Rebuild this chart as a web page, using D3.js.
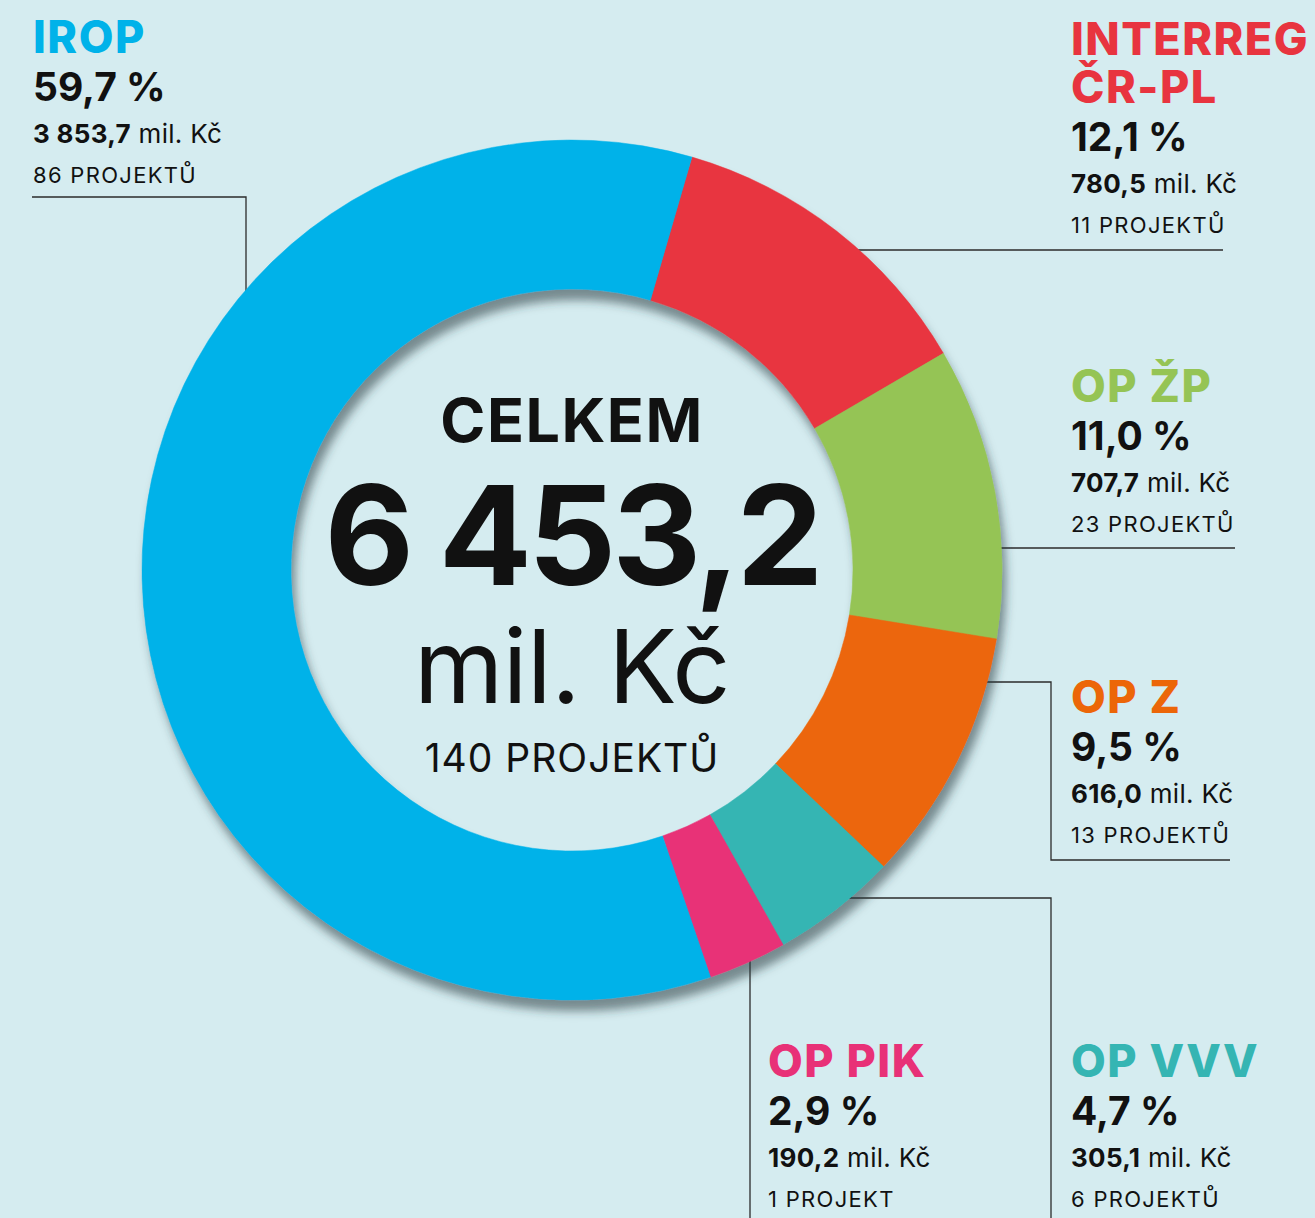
<!DOCTYPE html>
<html>
<head>
<meta charset="utf-8">
<script src="https://cdn.jsdelivr.net/npm/d3@7"></script>
<style>
    html, body { margin: 0; padding: 0; background: #d5ecf0; }
    svg { display: block; font-family: Inter, "Open Sans", sans-serif; }
</style>
</head>
<body>
<div id="chart"></div>
<script>
// data
const programs = ['INTERREG ČR-PL', 'OP ŽP', 'OP Z', 'OP VVV', 'OP PIK', 'IROP'];
const amounts = [780.5, 707.7, 616.0, 305.1, 190.2, 3853.7];      // mil. Kč
const shares = ['12,1', '11,0', '9,5', '4,7', '2,9', '59,7'];     // %
const amountLabels = ['780,5', '707,7', '616,0', '305,1', '190,2', '3 853,7'];
const projects = ['11 PROJEKTŮ', '23 PROJEKTŮ', '13 PROJEKTŮ', '6 PROJEKTŮ', '1 PROJEKT', '86 PROJEKTŮ'];
const colors = ['#e8343f', '#95c455', '#ec6608', '#35b5b3', '#e83177', '#00b2e9'];
const totalLabel = '6 453,2';
const totalProjects = '140 PROJEKTŮ';

const width = 1315, height = 1218;
const cx = 572, cy = 570;
const outerR = 430, innerR = 281;

const svg = d3.select('#chart')
    .append('svg')
    .attr('width', width)
    .attr('height', height);

svg.append('rect')
    .attr('width', width)
    .attr('height', height)
    .attr('fill', '#d5ecf0');

const defs = svg.append('defs');
const shadow = defs.append('filter')
    .attr('id', 'shadow')
    .attr('x', '-20%').attr('y', '-20%')
    .attr('width', '140%').attr('height', '140%');
shadow.append('feDropShadow')
    .attr('dx', 4)
    .attr('dy', 11)
    .attr('stdDeviation', 5)
    .attr('flood-color', '#2a3b40')
    .attr('flood-opacity', 0.55);

const startDeg = 16.2;
const pie = d3.pie()
    .sort(null)
    .startAngle(startDeg * Math.PI / 180)
    .endAngle(startDeg * Math.PI / 180 + 2 * Math.PI);

const arc = d3.arc()
    .innerRadius(innerR)
    .outerRadius(outerR);

// label layout: x and first baseline of each label block
const layout = [
    { x: 1071, y: 55, title: ['INTERREG', 'ČR-PL'] },
    { x: 1071, y: 402, title: ['OP ŽP'] },
    { x: 1071, y: 713, title: ['OP Z'] },
    { x: 1071, y: 1077, title: ['OP VVV'] },
    { x: 768, y: 1077, title: ['OP PIK'] },
    { x: 33, y: 53, title: ['IROP'] }
];

// leader lines end on the ring edge
const ringX = y => cx + Math.sqrt(outerR * outerR - (y - cy) * (y - cy));
const ringY = x => cy + Math.sqrt(outerR * outerR - (x - cx) * (x - cx));
const ringYTop = x => cy - Math.sqrt(outerR * outerR - (x - cx) * (x - cx));

const leaders = [
    [[ringX(250) - 5, 250], [1223, 250]],
    [[ringX(548) - 5, 548], [1235, 548]],
    [[ringX(682) - 5, 682], [1051, 682], [1051, 860], [1230, 860]],
    [[ringX(898) - 5, 898], [1051, 898], [1051, 1218]],
    [[750, ringY(750) - 5], [750, 1218]],
    [[32, 197], [246, 197], [246, ringYTop(246) + 5]]
];

svg.append('g')
    .selectAll('path')
    .data(leaders)
    .enter()
    .append('path')
    .attr('d', d3.line())
    .attr('fill', 'none')
    .attr('stroke', '#2b2b2b')
    .attr('stroke-width', 1.3);

svg.append('g')
    .attr('transform', 'translate(' + cx + ',' + cy + ')')
    .attr('filter', 'url(#shadow)')
    .selectAll('path')
    .data(pie(amounts))
    .enter()
    .append('path')
    .attr('d', arc)
    .attr('fill', (d, i) => colors[i])
    .attr('stroke', (d, i) => colors[i])
    .attr('stroke-width', 0.5);

// center text
const center = svg.append('g')
    .attr('text-anchor', 'middle')
    .attr('fill', '#111');

center.append('text')
    .attr('x', cx).attr('y', 442)
    .attr('font-size', 61)
    .attr('font-weight', 700)
    .attr('letter-spacing', 1.5)
    .text('CELKEM');

const total = center.append('text')
    .attr('x', cx).attr('y', 585);
total.append('tspan')
    .attr('x', cx)
    .attr('font-size', 138)
    .attr('font-weight', 700)
    .attr('letter-spacing', -4)
    .text(totalLabel);
total.append('tspan')
    .attr('x', cx)
    .attr('dy', 118)
    .attr('font-size', 102)
    .attr('font-weight', 400)
    .attr('letter-spacing', -0.5)
    .text('mil. Kč');

center.append('text')
    .attr('x', cx).attr('y', 772)
    .attr('font-size', 39)
    .attr('font-weight', 400)
    .attr('letter-spacing', 1)
    .text(totalProjects);

// side labels
layout.forEach((l, i) => {
    const g = svg.append('g').attr('fill', '#111');
    const title = g.append('text')
        .attr('x', l.x)
        .attr('y', l.y)
        .attr('font-size', 45)
        .attr('font-weight', 800)
        .attr('letter-spacing', 1.5)
        .attr('fill', colors[i]);
    l.title.forEach((t, j) => {
        title.append('tspan')
            .attr('x', l.x)
            .attr('dy', j === 0 ? 0 : 48)
            .text(t);
    });
    const base = l.y + (l.title.length - 1) * 48;

    g.append('text')
        .attr('x', l.x).attr('y', base + 48)
        .attr('font-size', 39)
        .attr('font-weight', 700)
        .text(shares[i] + ' %');

    const money = g.append('text')
        .attr('x', l.x).attr('y', base + 90)
        .attr('font-size', 26)
        .attr('letter-spacing', 0.3);
    money.append('tspan')
        .attr('font-weight', 700)
        .text(amountLabels[i]);
    money.append('tspan')
        .attr('font-weight', 400)
        .text(' mil. Kč');

    g.append('text')
        .attr('x', l.x).attr('y', base + 130)
        .attr('font-size', 22)
        .attr('font-weight', 400)
        .attr('letter-spacing', 1.3)
        .text(projects[i]);
});
</script>
</body>
</html>
